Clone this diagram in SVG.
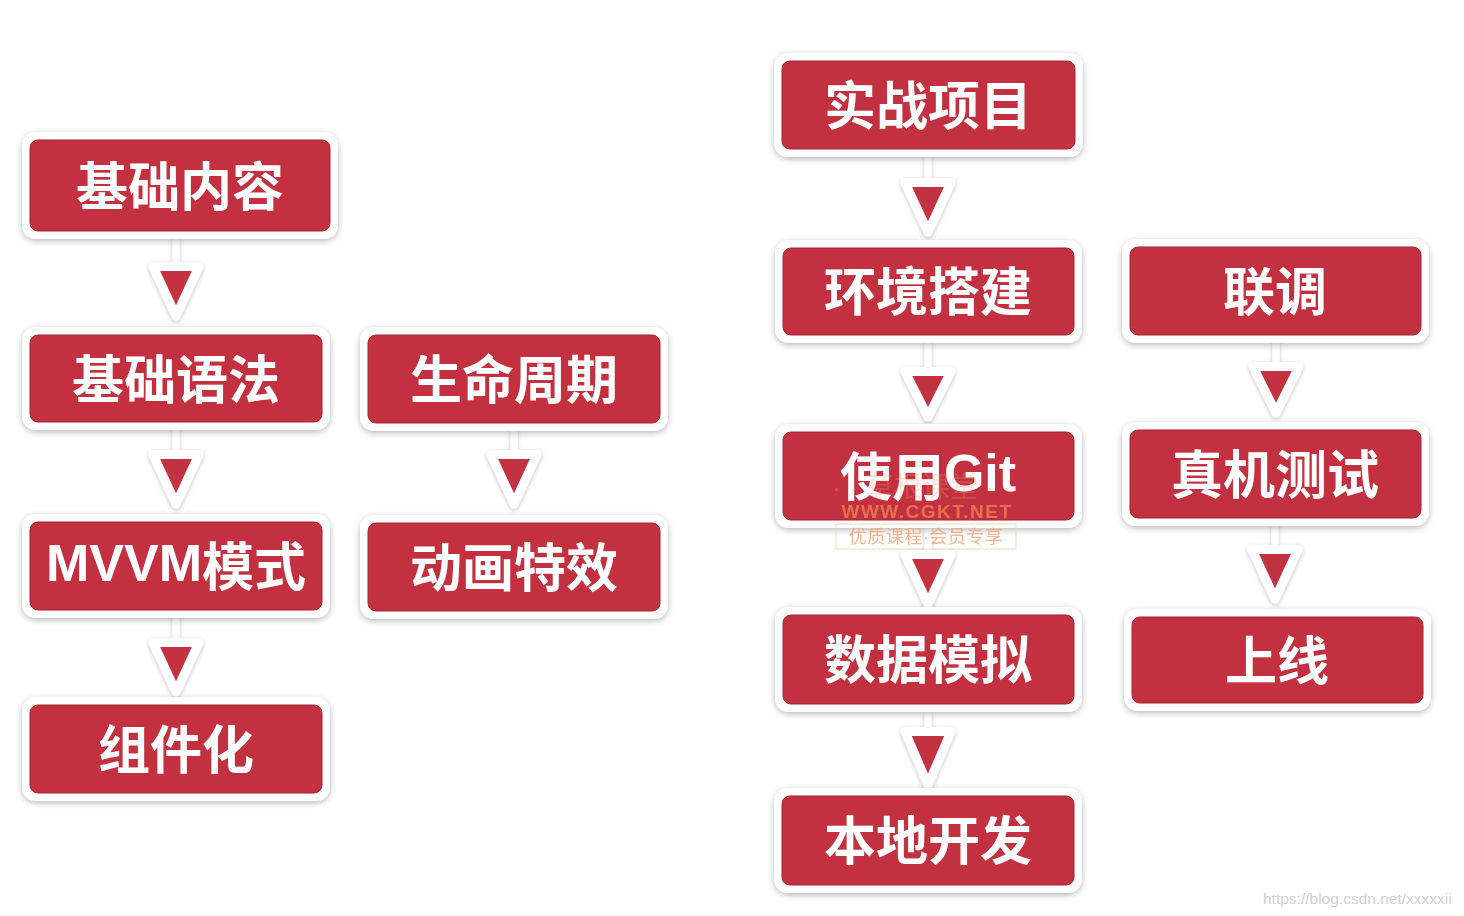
<svg xmlns="http://www.w3.org/2000/svg" width="1464" height="916" viewBox="0 0 1464 916">
<defs>
<filter id="sh" x="-10%" y="-20%" width="120%" height="150%">
<feDropShadow dx="0" dy="2" stdDeviation="3" flood-color="#000" flood-opacity="0.28"/>
</filter>
<filter id="sha" x="-40%" y="-20%" width="180%" height="150%">
<feDropShadow dx="0" dy="1.5" stdDeviation="2" flood-color="#000" flood-opacity="0.25"/>
</filter>
</defs>
<style>
.frame{fill:#fff;filter:url(#sh)}
.box{fill:#c3303f;stroke:#a52432;stroke-width:1}
.lbl{fill:#fff;font-family:"Noto Sans CJK SC","Noto Sans",sans-serif;font-weight:700;font-size:52px;text-anchor:middle;dominant-baseline:central}
.lat{font-family:"Liberation Sans","Noto Sans CJK SC",sans-serif;font-weight:700}
.stem{stroke:#fff;stroke-width:7;stroke-linecap:round}
.tri{fill:#c3303f;stroke:#fff;stroke-width:9;stroke-linejoin:round}
.arr{filter:url(#sha)}
.wm{font-family:"Liberation Sans","Noto Sans CJK SC",sans-serif;text-anchor:middle;dominant-baseline:central}
</style>
<rect width="1464" height="916" fill="#fff"/>

<g id="connectors">
<g class="arr" transform="translate(176,262)"><line class="stem" x1="0" y1="-23" x2="0" y2="5"/><polygon class="tri" points="-23,4.5 23,4.5 0,54"/></g>
<g class="arr" transform="translate(176,450)"><line class="stem" x1="0" y1="-20" x2="0" y2="5"/><polygon class="tri" points="-23,4.5 23,4.5 0,54"/></g>
<g class="arr" transform="translate(176,638)"><line class="stem" x1="0" y1="-20" x2="0" y2="5"/><polygon class="tri" points="-23,4.5 23,4.5 0,54"/></g>
<g class="arr" transform="translate(514,450)"><line class="stem" x1="0" y1="-19" x2="0" y2="5"/><polygon class="tri" points="-23,4.5 23,4.5 0,54"/></g>
<g class="arr" transform="translate(928,178)"><line class="stem" x1="0" y1="-21" x2="0" y2="5"/><polygon class="tri" points="-23,4.5 23,4.5 0,54"/></g>
<g class="arr" transform="translate(928,367)"><line class="stem" x1="0" y1="-24" x2="0" y2="5"/><polygon class="tri" points="-23,4.5 23,4.5 0,50"/></g>
<g class="arr" transform="translate(928,550)"><line class="stem" x1="0" y1="-22" x2="0" y2="5"/><polygon class="tri" points="-23,4.5 23,4.5 0,54"/></g>
<g class="arr" transform="translate(928,727)"><line class="stem" x1="0" y1="-14" x2="0" y2="5"/><polygon class="tri" points="-23,4.5 23,4.5 0,58"/></g>
<g class="arr" transform="translate(1276,362)"><line class="stem" x1="0" y1="-19" x2="0" y2="5"/><polygon class="tri" points="-23,4.5 23,4.5 0,51"/></g>
<g class="arr" transform="translate(1275,545)"><line class="stem" x1="0" y1="-19" x2="0" y2="5"/><polygon class="tri" points="-23,4.5 23,4.5 0,54"/></g>
</g>

<g id="n1"><rect class="frame" x="22" y="132" width="316" height="107" rx="14"/><rect class="box" x="30" y="140" width="300" height="91" rx="8"/><text class="lbl" x="180" y="183">基础内容</text></g>
<g id="n2"><rect class="frame" x="22" y="327" width="308" height="103" rx="14"/><rect class="box" x="30" y="335" width="292" height="87" rx="8"/><text class="lbl" x="176" y="376">基础语法</text></g>
<g id="n3"><rect class="frame" x="360" y="327" width="308" height="104" rx="14"/><rect class="box" x="368" y="335" width="292" height="88" rx="8"/><text class="lbl" x="514" y="376">生命周期</text></g>
<g id="n4"><rect class="frame" x="22" y="514" width="308" height="104" rx="14"/><rect class="box" x="30" y="522" width="292" height="88" rx="8"/><text class="lbl" x="176" y="563"><tspan class="lat">MVVM</tspan>模式</text></g>
<g id="n5"><rect class="frame" x="360" y="515" width="308" height="104" rx="14"/><rect class="box" x="368" y="523" width="292" height="88" rx="8"/><text class="lbl" x="514" y="564">动画特效</text></g>
<g id="n6"><rect class="frame" x="22" y="697" width="308" height="104" rx="14"/><rect class="box" x="30" y="705" width="292" height="88" rx="8"/><text class="lbl" x="176" y="746">组件化</text></g>
<g id="n7"><rect class="frame" x="774" y="53" width="309" height="104" rx="14"/><rect class="box" x="782" y="61" width="293" height="88" rx="8"/><text class="lbl" x="928" y="102">实战项目</text></g>
<g id="n8"><rect class="frame" x="775" y="240" width="307" height="103" rx="14"/><rect class="box" x="783" y="248" width="291" height="87" rx="8"/><text class="lbl" x="928" y="288">环境搭建</text></g>
<g id="n9"><rect class="frame" x="1122" y="239" width="307" height="104" rx="14"/><rect class="box" x="1130" y="247" width="291" height="88" rx="8"/><text class="lbl" x="1275" y="288">联调</text></g>
<g id="n10"><rect class="frame" x="775" y="424" width="307" height="104" rx="14"/><rect class="box" x="783" y="432" width="291" height="88" rx="8"/><text class="lbl" x="928" y="473">使用<tspan class="lat">Git</tspan></text></g>
<g id="n11"><rect class="frame" x="1122" y="422" width="307" height="104" rx="14"/><rect class="box" x="1130" y="430" width="291" height="88" rx="8"/><text class="lbl" x="1275" y="471">真机测试</text></g>
<g id="n12"><rect class="frame" x="775" y="607" width="307" height="105" rx="14"/><rect class="box" x="783" y="615" width="291" height="89" rx="8"/><text class="lbl" x="928" y="656">数据模拟</text></g>
<g id="n13"><rect class="frame" x="1124" y="609" width="307" height="102" rx="14"/><rect class="box" x="1132" y="617" width="291" height="86" rx="8"/><text class="lbl" x="1277" y="657">上线</text></g>
<g id="n14"><rect class="frame" x="774" y="788" width="308" height="105" rx="14"/><rect class="box" x="782" y="796" width="292" height="89" rx="8"/><text class="lbl" x="928" y="837">本地开发</text></g>

<g id="watermark" opacity="0.8">
<text class="wm" x="922" y="487" font-size="28" fill="#f29a6a" opacity="0.35">· · 草根课堂 · ·</text>
<text class="wm" x="927" y="511" font-size="19" font-weight="700" fill="#ee8152" letter-spacing="1.5">WWW.CGKT.NET</text>
<rect x="836" y="524" width="180" height="25" fill="none" stroke="#f3c9b4" stroke-width="1"/>
<text class="wm" x="926" y="537" font-size="18" fill="#f1a37a" letter-spacing="0.5">优质课程·会员专享</text>
</g>
<text x="1263" y="904" font-family="Liberation Sans, sans-serif" font-size="15.5" fill="#cfcfcf">https://blog.csdn.net/xxxxxii</text>
</svg>
